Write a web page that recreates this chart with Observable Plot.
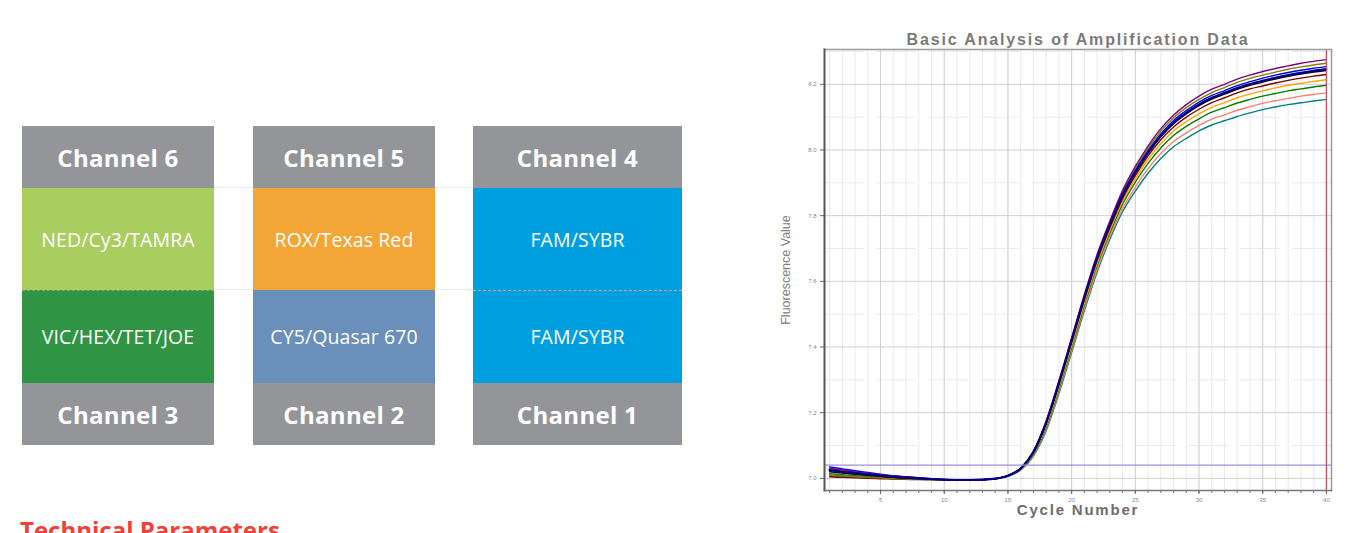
<!DOCTYPE html>
<html><head><meta charset="utf-8">
<script src="https://cdn.jsdelivr.net/npm/d3@7"></script>
<script src="https://cdn.jsdelivr.net/npm/@observablehq/plot@0.6"></script>
<style>
body{margin:0;width:1364px;height:533px;overflow:hidden;background:#fff;position:relative;font-family:"Open Sans",sans-serif}
.cell{position:absolute;display:flex;align-items:center;justify-content:center;color:#fff;box-sizing:border-box;white-space:nowrap}
.hdr{background:#939598;font-weight:700;font-size:24px;letter-spacing:0.3px}
.dye{font-size:19.5px;font-weight:400;letter-spacing:0.1px}
#tech{position:absolute;left:20px;top:513px;color:#ef4136;font-weight:700;font-size:24px;white-space:nowrap}
#chart{position:absolute;left:770px;top:20px}
.hl{position:absolute;height:1px;background:#e3edf2}
</style></head><body>
<div id="table"></div>
<div id="tech">Technical Parameters</div>
<div id="chart"></div>
<script>
// ---- table data ----
const channelsTop = ["Channel 6", "Channel 5", "Channel 4"];
const dyesTop = ["NED/Cy3/TAMRA", "ROX/Texas Red", "FAM/SYBR"];
const dyesBottom = ["VIC/HEX/TET/JOE", "CY5/Quasar 670", "FAM/SYBR"];
const channelsBottom = ["Channel 3", "Channel 2", "Channel 1"];
const dyeColorsTop = ["#a9ce5f", "#f3a536", "#009fe0"];
const dyeColorsBottom = ["#2f9444", "#6b8fbb", "#009fe0"];

// ---- chart data ----
const cycles = [1,2,3,4,5,6,7,8,9,10,11,12,13,14,15,16,17,18,19,20,21,22,23,24,25,26,27,28,29,30,31,32,33,34,35,36,37,38,39,40];
const xTicks = [5,10,15,20,25,30,35,40];
const yTicks = [7.0,7.2,7.4,7.6,7.8,8.0,8.2];
const yMinorGrid = [7.1,7.3,7.5,7.7,7.9,8.1,8.3];
const threshold = 7.04;
const endCycle = 40;

const sPurple = [7.030,7.025,7.019,7.015,7.011,7.007,7.004,7.001,6.998,6.996,6.995,6.995,6.996,6.999,7.008,7.031,7.083,7.175,7.297,7.428,7.560,7.682,7.783,7.877,7.950,8.012,8.065,8.106,8.138,8.164,8.185,8.200,8.216,8.228,8.239,8.248,8.256,8.264,8.270,8.275];
const sOlive = [7.010,7.008,7.005,7.003,7.002,6.999,6.998,6.997,6.996,6.996,6.995,6.995,6.996,6.999,7.008,7.030,7.080,7.170,7.291,7.422,7.554,7.677,7.779,7.871,7.943,8.005,8.057,8.098,8.129,8.154,8.175,8.190,8.206,8.218,8.228,8.237,8.246,8.253,8.259,8.264];
const sBlue = [7.035,7.029,7.023,7.018,7.013,7.008,7.005,7.002,6.999,6.997,6.995,6.995,6.996,6.999,7.008,7.030,7.080,7.170,7.291,7.421,7.552,7.674,7.775,7.866,7.937,7.998,8.049,8.090,8.120,8.146,8.166,8.181,8.196,8.208,8.219,8.228,8.236,8.243,8.249,8.254];
const sNavy = [7.025,7.020,7.016,7.012,7.008,7.005,7.002,7.000,6.998,6.996,6.995,6.995,6.996,6.999,7.008,7.030,7.080,7.170,7.290,7.420,7.551,7.671,7.772,7.862,7.932,7.993,8.043,8.083,8.113,8.139,8.159,8.174,8.189,8.201,8.211,8.220,8.228,8.235,8.241,8.246];
const sBlack = [7.020,7.016,7.012,7.009,7.006,7.003,7.001,6.999,6.997,6.996,6.995,6.995,6.996,6.999,7.008,7.030,7.080,7.170,7.290,7.420,7.550,7.670,7.770,7.860,7.930,7.990,8.040,8.080,8.110,8.135,8.155,8.170,8.185,8.197,8.207,8.216,8.224,8.231,8.237,8.242];
const sMaroon = [7.005,7.003,7.002,7.000,6.999,6.998,6.997,6.996,6.996,6.995,6.995,6.995,6.996,6.999,7.008,7.030,7.078,7.166,7.285,7.414,7.544,7.663,7.763,7.852,7.922,7.982,8.031,8.070,8.100,8.124,8.144,8.159,8.174,8.186,8.195,8.204,8.212,8.219,8.225,8.230];
const sOrange = [7.028,7.023,7.018,7.014,7.010,7.006,7.003,7.000,6.998,6.996,6.995,6.995,6.996,6.999,7.007,7.028,7.075,7.160,7.278,7.405,7.535,7.655,7.755,7.844,7.912,7.971,8.019,8.058,8.086,8.110,8.130,8.144,8.159,8.170,8.180,8.189,8.197,8.203,8.209,8.214];
const sGreen = [7.014,7.011,7.008,7.006,7.003,7.001,7.000,6.998,6.996,6.996,6.995,6.995,6.996,6.999,7.007,7.027,7.072,7.155,7.272,7.398,7.528,7.648,7.747,7.835,7.902,7.959,8.006,8.044,8.072,8.095,8.115,8.129,8.143,8.154,8.164,8.172,8.180,8.186,8.192,8.197];
const sSalmon = [7.032,7.026,7.020,7.016,7.011,7.007,7.004,7.001,6.998,6.997,6.995,6.995,6.996,6.999,7.007,7.026,7.070,7.150,7.265,7.390,7.518,7.636,7.737,7.822,7.887,7.943,7.989,8.026,8.052,8.075,8.094,8.107,8.121,8.132,8.142,8.150,8.157,8.164,8.169,8.174];
const sTeal = [7.008,7.006,7.004,7.002,7.001,6.999,6.998,6.997,6.996,6.995,6.995,6.995,6.996,6.999,7.006,7.025,7.068,7.145,7.258,7.383,7.510,7.628,7.728,7.812,7.875,7.929,7.974,8.010,8.035,8.058,8.076,8.089,8.102,8.113,8.123,8.131,8.138,8.144,8.149,8.154];

const seriesNames = ["teal","salmon","green","orange","maroon","olive","blue","black","purple","navy"];
const seriesValues = [sTeal, sSalmon, sGreen, sOrange, sMaroon, sOlive, sBlue, sBlack, sPurple, sNavy];
const seriesColors = ["#86aeb0","#e3837a","#3fae5e","#e69a3e","#8e1f44","#b7a83c","#3358c4","#1d1d1d","#8c3c9e","#23237e"];

// ---- build table ----
const table = document.getElementById("table");
const colLeft = [22, 253, 473], colWidth = [192, 182, 209];
const rows = [
  {top:126, h:62, texts:channelsTop, cls:"hdr", colors:null},
  {top:188, h:102, texts:dyesTop, cls:"dye", colors:dyeColorsTop},
  {top:290, h:93, texts:dyesBottom, cls:"dye", colors:dyeColorsBottom},
  {top:383, h:62, texts:channelsBottom, cls:"hdr", colors:null}
];
[188, 290].forEach(t => {
  const l = document.createElement("div"); l.className = "hl";
  l.style.left = "22px"; l.style.width = "660px"; l.style.top = (t - 1) + "px"; table.appendChild(l);
});
rows.forEach(r => {
  r.texts.forEach((t, i) => {
    const d = document.createElement("div");
    d.className = "cell " + r.cls;
    d.style.left = colLeft[i] + "px"; d.style.width = colWidth[i] + "px";
    d.style.top = r.top + "px"; d.style.height = r.h + "px";
    if (r.colors) d.style.background = r.colors[i];
    d.textContent = t;
    table.appendChild(d);
  });
});
// dashed separators
[[0, "#8a9a8a"], [2, "#e8a070"]].forEach(([i, c]) => {
  const d = document.createElement("div");
  d.style.position = "absolute"; d.style.left = colLeft[i] + "px"; d.style.width = colWidth[i] + "px";
  d.style.top = "290px"; d.style.height = "0"; d.style.borderTop = "1px dashed " + c;
  table.appendChild(d);
});

// ---- chart ----
const data = [];
seriesNames.forEach((name, k) => cycles.forEach((c, i) => data.push({cycle: c, value: seriesValues[k][i], series: name})));

const titleText = "Basic Analysis of Amplification Data";
const xLabel = "Cycle Number";
const yLabel = "Fluorescence Value";

const xDom = [0.6, 40.4], yDom = [6.963, 8.306];
const chart = Plot.plot({
  width: 590, height: 510,
  marginLeft: 54, marginTop: 29, marginRight: 29, marginBottom: 40,
  style: {fontFamily: "Liberation Sans, Arial, sans-serif", background: "transparent", color: "#666"},
  x: {domain: xDom},
  y: {domain: yDom},
  color: {domain: seriesNames, range: seriesColors},
  marks: [
    Plot.ruleX(cycles, {stroke: "#e4e4ec", strokeWidth: 0.8}),
    Plot.ruleX(xTicks, {stroke: "#d0d0d8", strokeWidth: 1}),
    Plot.ruleY(yMinorGrid, {stroke: "#e4e4ec", strokeWidth: 0.8, strokeDasharray: "40,12"}),
    Plot.ruleY(yTicks, {stroke: "#d0d0d8", strokeWidth: 1}),
    Plot.line(data.filter(d => d.series !== "navy"), {x: "cycle", y: "value", z: "series", stroke: "series", strokeWidth: 1.4, curve: "monotone-x"}),
    Plot.line(data.filter(d => d.series === "navy"), {x: "cycle", y: "value", stroke: "series", strokeWidth: 2.2, curve: "monotone-x"}),
    Plot.ruleY([threshold], {stroke: "#9a90d8", strokeWidth: 1.2}),
    Plot.ruleX([endCycle], {stroke: "#d24a5a", strokeWidth: 1.2}),
    Plot.frame({anchor: "top", stroke: "#9a9a9a", strokeWidth: 1.5}),
    Plot.frame({anchor: "right", stroke: "#9a9a9a", strokeWidth: 1.5}),
    Plot.frame({anchor: "left", stroke: "#555", strokeWidth: 2}),
    Plot.frame({anchor: "bottom", stroke: "#777", strokeWidth: 1.5}),
    Plot.axisX(cycles, {tickSize: 3, tickFormat: () => "", label: null, stroke: "#777"}),
    Plot.axisX(xTicks, {tickSize: 4, tickPadding: 3, fontSize: 6, label: null, stroke: "#666", fill: "#888"}),
    Plot.axisY(yTicks, {tickSize: 4, tickPadding: 4, fontSize: 6, tickFormat: d3.format(".1f"), label: null, stroke: "#666", fill: "#888"}),
    Plot.text([yLabel], {frameAnchor: "left", textAnchor: "middle", rotate: -90, dx: -39, fontSize: 12.5, fill: "#808080"}),
    Plot.text([xLabel], {frameAnchor: "bottom", lineAnchor: "top", dy: 14, fontSize: 15, fontWeight: "bold", fill: "#6d6d6d"}),
    Plot.text([titleText], {frameAnchor: "top", lineAnchor: "middle", dy: -10, fontSize: 16, fontWeight: "bold", fill: "#7a7a7a"})
  ]
});
// letter spacing for the wide-set labels
chart.querySelectorAll("text").forEach(t => {
  if (t.textContent === titleText) t.setAttribute("letter-spacing", "1.85");
  if (t.textContent === xLabel) t.setAttribute("letter-spacing", "1.8");
});
document.getElementById("chart").appendChild(chart);
</script>
</body></html>
